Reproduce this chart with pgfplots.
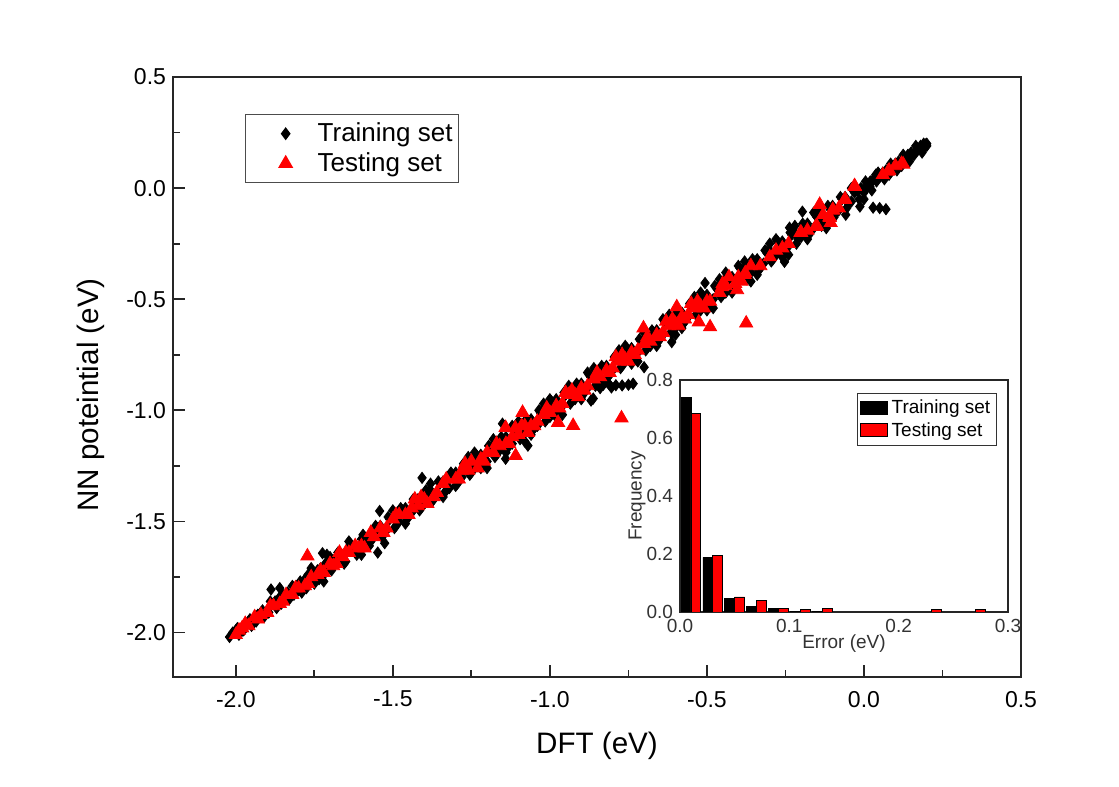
\documentclass[border=0pt]{standalone}
\usepackage{fontspec}
\setmainfont{Liberation Sans}
\usepackage{pgfplots}
\pgfplotsset{compat=1.18}
\pgfplotsset{
  markleg/.style={legend image code/.code={\pgfpathrectangle{\pgfpoint{0pt}{-2pt}}{\pgfpoint{33pt}{4pt}}\pgfusepath{use as bounding box}\draw[##1] plot coordinates {(19pt,0pt)};}},
  barleg/.style={legend image code/.code={\draw[##1,line width=0.4pt] (0pt,-3pt) rectangle (13.5pt,3.5pt);}},
}
\begin{document}
\begin{tikzpicture}
\useasboundingbox[fill=white] (0,0) rectangle (559.5pt,393.5pt);
\begin{axis}[
  at={(86.5pt,55pt)}, anchor=south west,
  width=424pt, height=300pt, scale only axis,
  xmin=-2.2, xmax=0.5, ymin=-2.2, ymax=0.5,
  xtick={-2,-1.5,-1,-0.5,0,0.5}, ytick={-2,-1.5,-1,-0.5,0,0.5},
  minor x tick num=1, minor y tick num=1,
  tick align=inside, xtick pos=bottom, ytick pos=left,
  major tick length=6pt, minor tick length=3.5pt,
  axis line style={line width=1pt, black!85},
  every tick/.style={black!85, line width=0.9pt},
  /pgf/number format/assume math mode=true,
  xticklabel style={/pgf/number format/fixed, /pgf/number format/fixed zerofill, /pgf/number format/precision=1, yshift=-3.5pt},
  yticklabel style={/pgf/number format/fixed, /pgf/number format/fixed zerofill, /pgf/number format/precision=1},
  tick label style={font=\fontsize{11.5}{13}\selectfont},
  xlabel={DFT (eV)}, ylabel={NN poteintial (eV)},
  label style={font=\fontsize{14.8}{16}\selectfont},
  xlabel style={at={(axis description cs:0.5,-0.115)}, anchor=center},
  ylabel style={at={(axis description cs:-0.0967,0.47)}, anchor=center},
  legend style={at={(axis description cs:0.085,0.938)}, anchor=north west,
    draw=black!70, line width=0.6pt, font=\fontsize{13}{15}\selectfont,
    inner xsep=1pt, inner ysep=2pt, cells={anchor=west},
    /tikz/every even column/.append style={column sep=1pt}},
]
\addplot[only marks, mark=diamond*, mark size=2.8pt, black, markleg] table {
x y
-2.02 -2.02
-2.00 -1.99
-1.98 -1.99
-1.96 -1.95
-1.94 -1.95
-1.92 -1.91
-1.90 -1.91
-1.88 -1.87
-1.86 -1.84
-1.84 -1.85
-1.82 -1.79
-1.80 -1.81
-1.78 -1.76
-1.76 -1.77
-1.74 -1.72
-1.72 -1.74
-1.70 -1.69
-1.68 -1.66
-1.66 -1.67
-1.64 -1.62
-1.62 -1.64
-1.60 -1.58
-1.58 -1.60
-1.56 -1.55
-1.54 -1.52
-1.52 -1.54
-1.50 -1.48
-1.48 -1.50
-1.46 -1.44
-1.44 -1.46
-1.42 -1.40
-1.40 -1.42
-1.38 -1.36
-1.36 -1.38
-1.34 -1.32
-1.32 -1.35
-1.30 -1.28
-1.28 -1.30
-1.26 -1.24
-1.24 -1.26
-1.22 -1.20
-1.20 -1.23
-1.18 -1.16
-1.16 -1.18
-1.14 -1.12
-1.12 -1.15
-1.10 -1.07
-1.08 -1.10
-1.06 -1.04
-1.04 -1.07
-1.02 -1.00
-1.00 -1.03
-0.98 -0.95
-0.96 -0.98
-0.94 -0.92
-0.92 -0.95
-0.90 -0.88
-0.88 -0.90
-0.86 -0.84
-0.84 -0.87
-0.82 -0.80
-0.80 -0.82
-0.78 -0.76
-0.76 -0.78
-0.74 -0.72
-0.72 -0.74
-0.70 -0.68
-0.68 -0.71
-0.66 -0.64
-0.64 -0.66
-0.62 -0.60
-0.60 -0.63
-0.58 -0.56
-0.56 -0.58
-0.54 -0.52
-0.52 -0.55
-0.50 -0.48
-0.48 -0.50
-0.46 -0.44
-0.44 -0.47
-0.42 -0.40
-0.40 -0.42
-0.38 -0.36
-0.36 -0.38
-0.34 -0.32
-0.32 -0.34
-0.30 -0.28
-0.28 -0.30
-0.26 -0.24
-0.24 -0.26
-0.22 -0.20
-0.20 -0.22
-0.18 -0.16
-0.16 -0.18
-0.14 -0.12
-0.12 -0.14
-0.10 -0.08
-0.08 -0.10
-0.06 -0.04
-0.04 -0.06
-0.02 -0.01
0.00 -0.02
0.02 0.03
0.04 0.03
0.06 0.07
0.08 0.06
0.10 0.11
0.12 0.10
0.14 0.15
0.16 0.15
0.18 0.19
0.20 0.20
-2.01 -2.00
-1.99 -2.01
-1.97 -1.96
-1.95 -1.97
-1.93 -1.92
-1.91 -1.93
-1.89 -1.86
-1.87 -1.89
-1.85 -1.83
-1.83 -1.85
-1.81 -1.80
-1.79 -1.82
-1.77 -1.74
-1.75 -1.78
-1.73 -1.71
-1.71 -1.72
-1.69 -1.70
-1.67 -1.65
-1.65 -1.68
-1.63 -1.61
-1.61 -1.63
-1.59 -1.57
-1.57 -1.59
-1.55 -1.53
-1.53 -1.56
-1.51 -1.49
-1.49 -1.52
-1.47 -1.45
-1.45 -1.48
-1.43 -1.41
-1.41 -1.44
-1.39 -1.37
-1.37 -1.40
-1.35 -1.33
-1.33 -1.36
-1.31 -1.29
-1.29 -1.32
-1.27 -1.25
-1.25 -1.28
-1.23 -1.21
-1.21 -1.24
-1.19 -1.17
-1.17 -1.20
-1.15 -1.13
-1.13 -1.16
-1.11 -1.09
-1.09 -1.12
-1.07 -1.05
-1.05 -1.08
-1.03 -1.01
-1.01 -1.04
-0.99 -0.97
-0.97 -1.00
-0.95 -0.93
-0.93 -0.96
-0.91 -0.89
-0.89 -0.92
-0.87 -0.85
-0.85 -0.88
-0.83 -0.81
-0.81 -0.84
-0.79 -0.77
-0.77 -0.80
-0.75 -0.73
-0.73 -0.76
-0.71 -0.69
-0.69 -0.72
-0.67 -0.65
-0.65 -0.68
-0.63 -0.61
-0.61 -0.64
-0.59 -0.57
-0.57 -0.60
-0.55 -0.53
-0.53 -0.56
-0.51 -0.49
-0.49 -0.51
-0.47 -0.45
-0.45 -0.48
-0.43 -0.41
-0.41 -0.44
-0.39 -0.37
-0.37 -0.40
-0.35 -0.33
-0.33 -0.36
-0.31 -0.29
-0.29 -0.32
-0.27 -0.25
-0.25 -0.28
-0.23 -0.21
-0.21 -0.23
-0.19 -0.17
-0.17 -0.19
-0.15 -0.13
-0.13 -0.15
-0.11 -0.09
-0.09 -0.11
-0.07 -0.05
-0.05 -0.07
-0.03 -0.02
-0.01 0.00
0.01 0.01
0.03 0.04
0.05 0.05
0.07 0.08
0.09 0.09
0.11 0.12
0.13 0.13
0.15 0.16
0.17 0.17
0.19 0.18
0.20 0.19
-1.995 -1.98
-1.975 -1.99
-1.955 -1.94
-1.935 -1.95
-1.915 -1.90
-1.895 -1.91
-1.875 -1.86
-1.855 -1.87
-1.835 -1.82
-1.815 -1.83
-1.795 -1.77
-1.775 -1.80
-1.755 -1.73
-1.735 -1.76
-1.715 -1.69
-1.695 -1.72
-1.675 -1.64
-1.655 -1.69
-1.635 -1.60
-1.615 -1.65
-1.595 -1.56
-1.575 -1.61
-1.555 -1.52
-1.535 -1.57
-1.515 -1.48
-1.495 -1.53
-1.475 -1.44
-1.455 -1.49
-1.435 -1.40
-1.415 -1.45
-1.395 -1.36
-1.375 -1.41
-1.355 -1.32
-1.335 -1.37
-1.315 -1.28
-1.295 -1.33
-1.275 -1.24
-1.255 -1.29
-1.235 -1.20
-1.215 -1.25
-1.195 -1.16
-1.175 -1.21
-1.155 -1.12
-1.135 -1.17
-1.115 -1.08
-1.095 -1.13
-1.075 -1.04
-1.055 -1.09
-1.035 -1.00
-1.015 -1.05
-0.995 -0.96
-0.975 -1.01
-0.955 -0.92
-0.935 -0.97
-0.915 -0.88
-0.895 -0.93
-0.875 -0.84
-0.855 -0.89
-0.835 -0.80
-0.815 -0.85
-0.795 -0.76
-0.775 -0.81
-0.755 -0.72
-0.735 -0.77
-0.715 -0.68
-0.695 -0.73
-0.675 -0.64
-0.655 -0.69
-0.635 -0.60
-0.615 -0.65
-0.595 -0.56
-0.575 -0.61
-0.555 -0.52
-0.535 -0.57
-0.515 -0.48
-0.495 -0.53
-0.475 -0.44
-0.455 -0.49
-0.435 -0.40
-0.415 -0.45
-0.395 -0.36
-0.375 -0.41
-0.355 -0.32
-0.335 -0.37
-0.315 -0.28
-0.295 -0.33
-0.275 -0.24
-0.255 -0.29
-0.235 -0.20
-0.215 -0.25
-0.195 -0.16
-0.175 -0.21
-0.155 -0.12
-0.135 -0.17
-0.115 -0.08
-0.095 -0.13
-0.075 -0.04
-0.055 -0.09
-0.035 0.00
-0.015 -0.05
0.005 0.03
0.025 -0.01
0.045 0.07
0.065 0.04
0.085 0.11
0.105 0.08
0.125 0.15
0.145 0.12
0.165 0.19
0.185 0.16
-1.30 -1.34
-1.26 -1.21
-1.22 -1.26
-1.18 -1.13
-1.14 -1.19
-1.10 -1.05
-1.06 -1.11
-1.02 -0.97
-0.98 -1.03
-0.94 -0.89
-0.90 -0.95
-0.86 -0.81
-0.82 -0.87
-0.78 -0.73
-0.74 -0.79
-0.70 -0.65
-0.66 -0.71
-0.62 -0.57
-0.58 -0.63
-0.54 -0.49
-0.50 -0.55
-0.46 -0.41
-0.42 -0.47
-0.38 -0.33
-0.34 -0.39
-0.30 -0.25
-0.26 -0.31
-0.22 -0.17
-0.18 -0.23
-0.14 -0.10
-0.10 -0.14
-1.76 -1.71
-1.72 -1.77
-1.64 -1.59
-1.60 -1.65
-1.50 -1.45
-1.46 -1.51
-1.38 -1.33
-1.34 -1.39
-1.24 -1.19
-1.20 -1.26
-1.12 -1.07
-1.08 -1.14
-1.00 -0.95
-0.96 -1.02
-0.88 -0.83
-0.84 -0.90
-0.76 -0.71
-0.72 -0.78
-0.64 -0.59
-0.60 -0.66
-0.52 -0.47
-0.48 -0.54
-0.40 -0.35
-0.36 -0.42
-0.28 -0.23
-0.24 -0.30
-0.16 -0.11
-0.12 -0.18
-0.04 0.00
0.00 -0.05
-1.888 -1.806
-1.86 -1.80
-1.724 -1.643
-1.71 -1.65
-1.70 -1.66
-1.542 -1.453
-1.526 -1.598
-1.548 -1.64
-1.407 -1.304
-1.141 -1.218
-1.07 -1.159
-1.151 -1.06
-0.869 -0.956
-0.862 -0.947
-0.85 -0.88
-0.83 -0.885
-0.81 -0.885
-0.79 -0.887
-0.77 -0.888
-0.75 -0.885
-0.735 -0.88
-0.804 -0.897
-0.70 -0.806
-0.612 -0.693
-0.506 -0.427
-0.44 -0.38
-0.253 -0.332
-0.237 -0.178
-0.196 -0.106
-0.058 -0.12
-0.013 -0.083
0.029 -0.088
0.05 -0.09
0.07 -0.095
0.019 0.007
0.038 0.061
0.135 0.129
0.157 0.152
0.195 0.197
0.19 0.20
};
\addlegendentry{Training set}
\addplot[only marks, mark=triangle*, mark size=3.8pt, red, mark options={draw=red, fill=red}, markleg] table {
x y
-2.00 -2.01
-1.98 -1.98
-1.96 -1.97
-1.94 -1.93
-1.92 -1.92
-1.90 -1.91
-1.88 -1.88
-1.86 -1.87
-1.84 -1.83
-1.82 -1.83
-1.80 -1.80
-1.78 -1.79
-1.76 -1.75
-1.74 -1.74
-1.72 -1.73
-1.70 -1.69
-1.68 -1.69
-1.66 -1.66
-1.64 -1.64
-1.62 -1.61
-1.60 -1.61
-1.56 -1.57
-1.54 -1.53
-1.52 -1.53
-1.50 -1.49
-1.48 -1.47
-1.46 -1.47
-1.44 -1.44
-1.42 -1.43
-1.40 -1.40
-1.36 -1.37
-1.34 -1.33
-1.30 -1.31
-1.28 -1.27
-1.26 -1.27
-1.22 -1.22
-1.20 -1.19
-1.18 -1.19
-1.16 -1.16
-1.14 -1.15
-1.12 -1.12
-1.10 -1.11
-1.08 -1.07
-1.06 -1.07
-1.04 -1.05
-1.02 -1.02
-1.00 -1.01
-0.98 -0.98
-0.96 -0.97
-0.94 -0.93
-0.92 -0.93
-0.90 -0.90
-0.88 -0.89
-0.86 -0.86
-0.84 -0.85
-0.82 -0.82
-0.80 -0.81
-0.78 -0.78
-0.76 -0.77
-0.74 -0.74
-0.72 -0.73
-0.70 -0.70
-0.68 -0.69
-0.66 -0.66
-0.64 -0.65
-0.62 -0.62
-0.60 -0.61
-0.58 -0.58
-0.56 -0.57
-0.54 -0.54
-0.52 -0.53
-0.50 -0.51
-0.46 -0.47
-0.44 -0.44
-0.40 -0.40
-0.38 -0.39
-0.30 -0.31
-0.26 -0.27
-0.20 -0.20
-0.15 -0.17
-0.11 -0.13
-0.10 -0.10
-0.06 -0.05
-0.03 0.01
0.08 0.08
0.12 0.11
-1.99 -1.99
-1.97 -1.96
-1.93 -1.94
-1.89 -1.88
-1.85 -1.86
-1.81 -1.80
-1.77 -1.78
-1.73 -1.72
-1.69 -1.70
-1.65 -1.64
-1.61 -1.62
-1.57 -1.55
-1.53 -1.55
-1.49 -1.47
-1.45 -1.47
-1.41 -1.39
-1.37 -1.39
-1.33 -1.31
-1.29 -1.31
-1.25 -1.23
-1.21 -1.23
-1.17 -1.15
-1.13 -1.15
-1.09 -1.07
-1.05 -1.07
-1.01 -0.99
-0.97 -0.99
-0.93 -0.91
-0.89 -0.91
-0.85 -0.83
-0.81 -0.83
-0.77 -0.75
-0.73 -0.75
-0.69 -0.67
-0.65 -0.67
-0.61 -0.59
-0.57 -0.59
-0.53 -0.51
-0.49 -0.51
-0.45 -0.43
-0.41 -0.43
-0.36 -0.35
-0.33 -0.35
-0.28 -0.28
-0.24 -0.25
-0.18 -0.19
-0.13 -0.12
-0.08 -0.09
0.06 0.06
0.10 0.10
-1.67 -1.64
-1.59 -1.62
-1.43 -1.40
-1.39 -1.42
-1.27 -1.24
-1.23 -1.26
-1.11 -1.08
-1.07 -1.10
-0.95 -0.92
-0.91 -0.94
-0.79 -0.76
-0.75 -0.78
-0.63 -0.60
-0.59 -0.62
-0.55 -0.52
-0.51 -0.54
-0.43 -0.40
-0.39 -0.42
-1.772 -1.656
-1.109 -1.204
-1.087 -1.01
-1.141 -1.078
-0.974 -1.055
-0.926 -1.069
-0.772 -1.035
-0.702 -0.630
-0.596 -0.535
-0.526 -0.603
-0.49 -0.625
-0.375 -0.608
-0.404 -0.458
-0.452 -0.445
-0.378 -0.382
-0.202 -0.20
-0.154 -0.174
-0.141 -0.074
-0.099 -0.097
-0.109 -0.133
-0.106 -0.156
-0.061 -0.052
-0.029 0.007
0.077 0.075
0.125 0.107
};
\addlegendentry{Testing set}
\end{axis}

\begin{axis}[
  at={(340pt,87.5pt)}, anchor=south west,
  width=164pt, height=116pt, scale only axis,
  xmin=0, xmax=0.3, ymin=0, ymax=0.8,
  xtick={0,0.1,0.2,0.3}, ytick={0,0.2,0.4,0.6,0.8},
  major tick length=0pt, minor tick length=0pt,
  axis background/.style={fill=white},
  axis line style={line width=0.8pt, black!85},
  /pgf/number format/assume math mode=true,
  xticklabel style={/pgf/number format/fixed, /pgf/number format/fixed zerofill, /pgf/number format/precision=1},
  yticklabel style={/pgf/number format/fixed, /pgf/number format/fixed zerofill, /pgf/number format/precision=1},
  tick label style={font=\fontsize{9.5}{10}\selectfont, text=black!80},
  xlabel={Error (eV)}, ylabel={Frequency},
  label style={font=\fontsize{9.5}{10}\selectfont, text=black!80},
  xlabel style={at={(axis description cs:0.5,-0.134)}, anchor=center},
  ylabel style={at={(axis description cs:-0.131,0.5)}, anchor=center},
  legend style={at={(axis description cs:0.966,0.944)}, anchor=north east,
    draw=black!80, line width=0.6pt, font=\fontsize{9.5}{10}\selectfont,
    inner xsep=1pt, inner ysep=1pt, cells={anchor=west}, row sep=-1pt,
    /tikz/every even column/.append style={column sep=1pt}},
]
\addplot[ybar, bar width=0.009, bar shift=-0.0045, fill=black, draw=black, line width=0.4pt, barleg] coordinates {
(0.01,0.739) (0.03,0.188) (0.05,0.048) (0.07,0.020) (0.09,0.013) (0.11,0.003) (0.13,0.001)
};
\addlegendentry{Training set}
\addplot[ybar, bar width=0.009, bar shift=0.0045, fill=red, draw=black, line width=0.4pt, barleg] coordinates {
(0.01,0.685) (0.03,0.195) (0.05,0.052) (0.07,0.040) (0.09,0.013) (0.11,0.008) (0.13,0.013) (0.23,0.008) (0.27,0.008)
};
\addlegendentry{Testing set}
\end{axis}
\end{tikzpicture}
\end{document}
